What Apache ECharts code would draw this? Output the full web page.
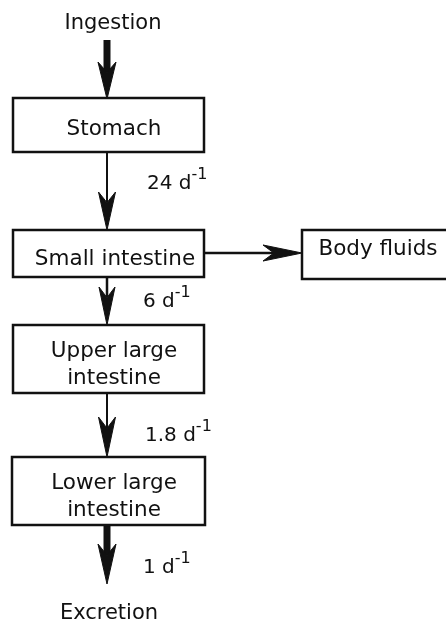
<!DOCTYPE html>
<html><head><meta charset="utf-8">
<script src="https://cdn.jsdelivr.net/npm/echarts@6/dist/echarts.min.js"></script>
<style>html,body{margin:0;padding:0;background:#fff}#c{width:446px;height:623px}</style>
</head><body><div id="c"></div>
<script>
// ---- data ----
const compartments = ['Stomach', 'Small intestine', 'Upper large\nintestine', 'Lower large\nintestine', 'Body fluids'];
const sourceLabel = 'Ingestion';
const sinkLabel = 'Excretion';
const flowFrom = ['Ingestion', 'Stomach', 'Small intestine', 'Upper large\nintestine', 'Lower large\nintestine', 'Small intestine'];
const flowTo = ['Stomach', 'Small intestine', 'Upper large\nintestine', 'Lower large\nintestine', 'Excretion', 'Body fluids'];
const flowRates = [null, 24, 6, 1.8, 1, null];
const rateUnit = 'd';
const rateExponent = '-1';

// ---- layout (units of the hidden axes) ----
const boxGeom = [
  [13, 98, 204, 152],
  [13, 230, 204, 277],
  [13, 325, 204, 393],
  [12, 457, 205, 525],
  [302, 230, 492, 279]
];
const boxTextPos = [[114, 129], [115, 259], [114, 365], [114, 497], [378, 249]];
const terminalPos = [[113, 24], [109, 614]];
// x1,y1,x2,y2, shaft width, head length, head width
const arrowGeom = [
  [107, 40, 107, 99, 7, 37, 18],
  [107, 152, 107, 230, 2, 38, 17],
  [107, 277, 107, 325, 2.5, 38, 16],
  [107, 393, 107, 457, 2, 40, 17],
  [107, 525, 107, 584, 7, 40, 18],
  [204, 253, 302, 253, 2.5, 39, 16]
];
const rateLabelPos = [null, [147, 180], [143, 298], [145, 432], [143, 564], null];

const FONT = 'DejaVu Sans';
const INK = '#111';

const chart = echarts.init(document.getElementById('c'), null, {renderer: 'canvas'});

function renderBox(params, api) {
  const i = api.value(0);
  const g = boxGeom[i];
  const p1 = api.coord([g[0], g[1]]);
  const p2 = api.coord([g[2], g[3]]);
  const tp = api.coord(boxTextPos[i]);
  return {
    type: 'group',
    children: [
      {type: 'rect', shape: {x: p1[0], y: p1[1], width: p2[0] - p1[0], height: p2[1] - p1[1]},
       style: {fill: '#fff', stroke: INK, lineWidth: 2.5}},
      {type: 'text', style: {text: compartments[i], x: tp[0], y: tp[1], align: 'center', verticalAlign: 'middle',
        font: '21.5px "' + FONT + '"', lineHeight: 27, fill: INK}}
    ]
  };
}

function renderArrow(params, api) {
  const i = api.value(0);
  const a = arrowGeom[i];
  const s = api.coord([a[0], a[1]]);
  const e = api.coord([a[2], a[3]]);
  const dx = e[0] - s[0], dy = e[1] - s[1];
  const len = Math.sqrt(dx * dx + dy * dy);
  const ux = dx / len, uy = dy / len;
  const nx = -uy, ny = ux;
  const L = a[5], W = a[6];
  const back = [e[0] - ux * L, e[1] - uy * L];
  const notch = [e[0] - ux * L * 0.72, e[1] - uy * L * 0.72];
  const children = [
    {type: 'line', shape: {x1: s[0], y1: s[1], x2: notch[0], y2: notch[1]}, style: {stroke: INK, lineWidth: a[4]}},
    {type: 'polygon', shape: {points: [
      e,
      [back[0] + nx * W / 2, back[1] + ny * W / 2],
      notch,
      [back[0] - nx * W / 2, back[1] - ny * W / 2]
    ]}, style: {fill: INK, stroke: INK, lineWidth: 1}}
  ];
  if (flowRates[i] != null) {
    const lp = api.coord(rateLabelPos[i]);
    children.push({type: 'text', style: {
      text: '{n|' + flowRates[i] + ' ' + rateUnit + '}{s|' + rateExponent + '}',
      x: lp[0], y: lp[1], align: 'left', verticalAlign: 'middle',
      rich: {
        n: {fontFamily: FONT, fontSize: 20, lineHeight: 27, fill: INK, color: INK, verticalAlign: 'bottom'},
        s: {fontFamily: FONT, fontSize: 16, lineHeight: 16, fill: INK, color: INK, verticalAlign: 'top'}
      }
    }});
  }
  return {type: 'group', children: children};
}

function renderTerminal(params, api) {
  const i = api.value(0);
  const p = api.coord(terminalPos[i]);
  return {type: 'text', style: {text: [sourceLabel, sinkLabel][i], x: p[0], y: p[1], align: 'center', verticalAlign: 'middle',
    font: '21px "' + FONT + '"', fill: INK}};
}

chart.setOption({
  animation: false,
  backgroundColor: '#fff',
  grid: {left: 0, right: 0, top: 0, bottom: 0},
  xAxis: {type: 'value', min: 0, max: 446, show: false},
  yAxis: {type: 'value', min: 0, max: 623, inverse: true, show: false},
  series: [
    {type: 'custom', clip: false, renderItem: renderArrow, data: flowFrom.map((f, i) => [i, flowTo[i]])},
    {type: 'custom', clip: false, renderItem: renderBox, data: compartments.map((c, i) => [i, c])},
    {type: 'custom', clip: false, renderItem: renderTerminal, data: [[0, sourceLabel], [1, sinkLabel]]}
  ]
});
</script>
</body></html>
